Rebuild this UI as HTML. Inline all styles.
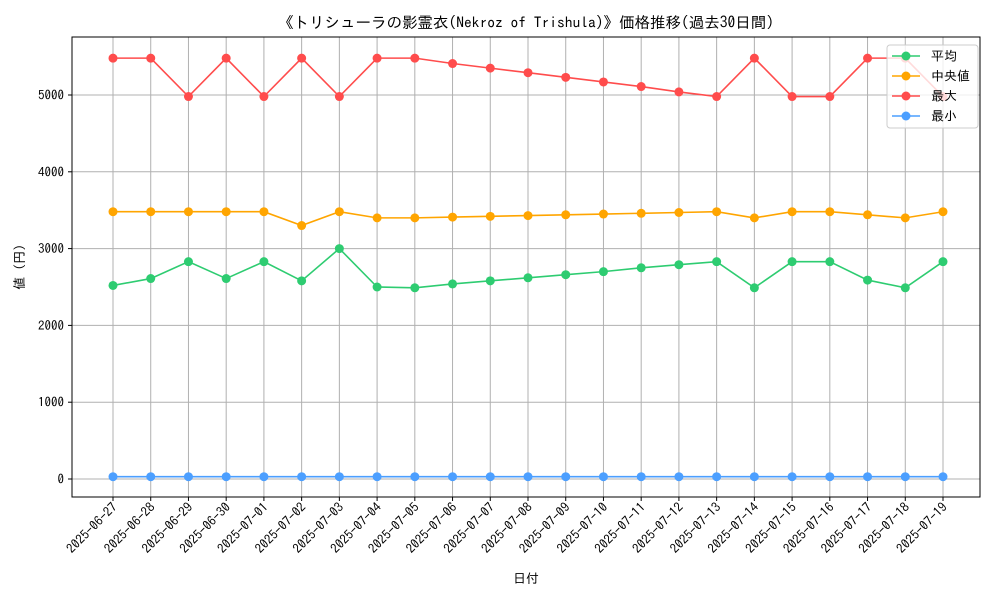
<!DOCTYPE html>
<html><head><meta charset="utf-8">
<style>
html,body{margin:0;padding:0;background:#fff;}
svg{display:block;font-family:"IPAGothic","Noto Sans CJK JP",sans-serif;}
</style></head>
<body>
<svg id="chart" width="1000" height="600" viewBox="0 0 1000 600" xmlns="http://www.w3.org/2000/svg">
<text x="526" y="28" text-anchor="middle" font-size="15.5">《トリシューラの影霊衣(Nekroz of Trishula)》価格推移(過去30日間)</text>
<g id="grid"></g>
<g id="axes"></g>
<g id="series"></g>
<rect x="72" y="37" width="908" height="460" fill="none" stroke="#000" stroke-width="1"/>
<text x="526" y="583" text-anchor="middle" font-size="13">日付</text>
<text transform="translate(24,267) rotate(-90)" text-anchor="middle" font-size="13">値 (円)</text>
<g id="legend"></g>
</svg>
<script>
const dates=["2025-06-27","2025-06-28","2025-06-29","2025-06-30","2025-07-01","2025-07-02","2025-07-03","2025-07-04","2025-07-05","2025-07-06","2025-07-07","2025-07-08","2025-07-09","2025-07-10","2025-07-11","2025-07-12","2025-07-13","2025-07-14","2025-07-15","2025-07-16","2025-07-17","2025-07-18","2025-07-19"];
const meanVals=[2520,2610,2830,2610,2830,2580,3000,2500,2490,2540,2580,2620,2660,2700,2750,2790,2830,2490,2830,2830,2590,2490,2830];
const medianVals=[3480,3480,3480,3480,3480,3300,3480,3400,3400,3410,3420,3430,3440,3450,3460,3470,3480,3400,3480,3480,3440,3400,3480];
const maxVals=[5480,5480,4980,5480,4980,5480,4980,5480,5480,5410,5350,5290,5230,5170,5110,5040,4980,5480,4980,4980,5480,5480,4980];
const minVals=[30,30,30,30,30,30,30,30,30,30,30,30,30,30,30,30,30,30,30,30,30,30,30];
const yTicks=[0,1000,2000,3000,4000,5000];
const seriesNames=["平均","中央値","最大","最小"];
const seriesColors=["#2ecc71","#ffa500","#ff4c4c","#4c9fff"];

const NS="http://www.w3.org/2000/svg";
const x0=113,x1=943,yZero=479,yPer=76.8/1000;
const xs=i=>x0+i*(x1-x0)/(dates.length-1);
const ys=v=>yZero-v*yPer;
function mk(tag,attrs,parent){const e=document.createElementNS(NS,tag);for(const k in attrs)e.setAttribute(k,attrs[k]);parent.appendChild(e);return e;}
const grid=document.getElementById('grid'),axes=document.getElementById('axes'),ser=document.getElementById('series'),leg=document.getElementById('legend');
dates.forEach((d,i)=>{
  const x=xs(i);
  const g=mk('line',{x1:x,x2:x,y1:37,y2:497,stroke:'#b0b0b0','stroke-width':1},grid);
  
  
  mk('line',{x1:x,x2:x,y1:497,y2:501,stroke:'#000'},axes);
  const t=mk('text',{transform:`translate(${x+5},${508}) rotate(-45)`,'text-anchor':'end','font-size':13},axes);
  
  
  t.textContent=d;
});
yTicks.forEach(v=>{
  const y=ys(v);
  const g=mk('line',{x1:72,x2:980,y1:y,y2:y,stroke:'#b0b0b0','stroke-width':1},grid);
  
  
  mk('line',{x1:68,x2:72,y1:y,y2:y,stroke:'#000'},axes);
  const t=mk('text',{x:64,y:y+4.5,'text-anchor':'end','font-size':13},axes);
  
  
  t.textContent=v;
});
[meanVals,medianVals,maxVals,minVals].forEach((vals,s)=>{
  const p=mk('polyline',{points:vals.map((v,i)=>xs(i)+','+ys(v)).join(' '),fill:'none',stroke:seriesColors[s],'stroke-width':1.6},ser);
  
  
  vals.forEach((v,i)=>{
    const c=mk('circle',{cx:xs(i),cy:ys(v),r:4.5,fill:seriesColors[s]},ser);
    
    
  });
});
const box=mk('rect',{x:887,y:45,width:91,height:83,rx:3,fill:'#fff','fill-opacity':0.8,stroke:'#ccc'},leg);


seriesNames.forEach((n,s)=>{
  const y=56+s*20;
  const l=mk('line',{x1:892,x2:920,y1:y,y2:y,stroke:seriesColors[s],'stroke-width':1.6},leg);
  
  
  mk('circle',{cx:906,cy:y,r:4.5,fill:seriesColors[s]},leg);
  const t=mk('text',{x:931,y:y+4.5,'font-size':13},leg);
  
  
  t.textContent=n;
});
</script>
</body></html>
